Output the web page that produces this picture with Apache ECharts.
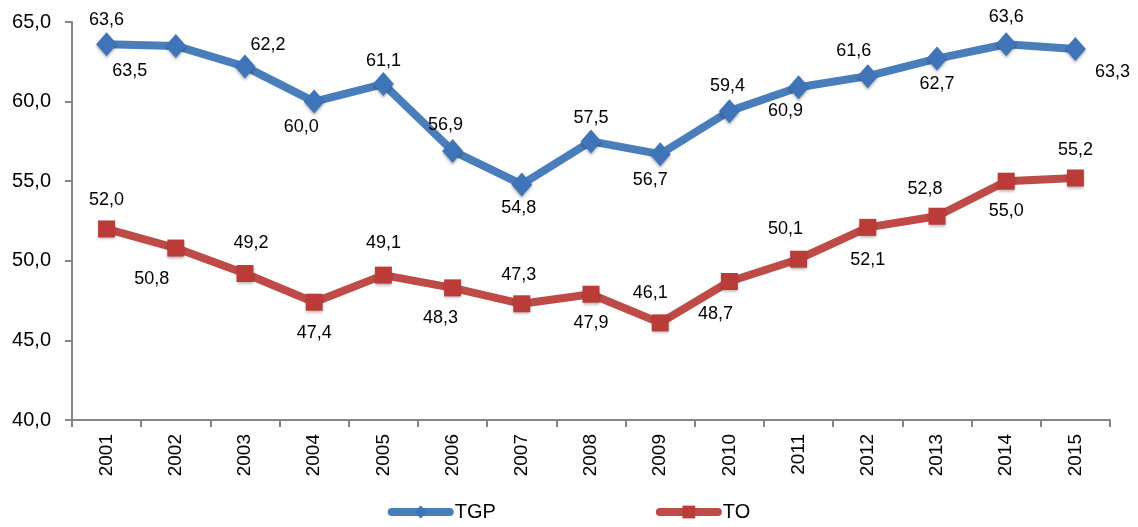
<!DOCTYPE html>
<html>
<head>
<meta charset="utf-8">
<script src="https://cdn.jsdelivr.net/npm/echarts@6/dist/echarts.min.js"></script>
<style>html,body{margin:0;padding:0;background:#fff}#c{width:1138px;height:527px}</style>
</head>
<body>
<div id="c"></div>
<script>
const years = ['2001','2002','2003','2004','2005','2006','2007','2008','2009','2010','2011','2012','2013','2014','2015'];
const tgp = [63.6, 63.5, 62.2, 60.0, 61.1, 56.9, 54.8, 57.5, 56.7, 59.4, 60.9, 61.6, 62.7, 63.6, 63.3];
const to  = [52.0, 50.8, 49.2, 47.4, 49.1, 48.3, 47.3, 47.9, 46.1, 48.7, 50.1, 52.1, 52.8, 55.0, 55.2];
const yTicks = {min: 40, max: 65, interval: 5};

// label offsets (style, pixels from point)
const tgpLabelOff = [[0,-24],[-46,25],[23,-22],[-13,25],[0,-23],[-7,-26],[-3,24],[0,-23],[-10,26],[-2,-25],[-13,24],[-14,-25],[0,25],[0,-27],[37,23]];
const toLabelOff  = [[0,-29],[-24,31],[6,-31],[0,31],[0,-32],[-12,30],[-3,-29],[0,29],[-10,-30],[-14,33],[-13,-30],[0,33],[-12,-27],[0,30],[0,-28]];

const FONT = 'Liberation Sans, Arial, sans-serif';
const fmt = v => v.toFixed(1).replace('.', ',');
const labelBase = {show: true, position: 'inside', color: '#000', fontFamily: FONT, fontSize: 18, formatter: p => fmt(p.value)};
function mkData(vals, offs) {
  return vals.map((v, i) => ({value: v, label: Object.assign({}, labelBase, {offset: offs[i]})}));
}

const chart = echarts.init(document.getElementById('c'), null, {renderer: 'canvas'});
chart.setOption({
  animation: false,
  backgroundColor: '#fff',
  grid: {left: 72, right: 28, top: 22, bottom: 107},
  legend: {
    bottom: 0, left: 'center', itemWidth: 58, itemHeight: 16, itemGap: 160,
    lineStyle: {width: 8, cap: 'round'},
    textStyle: {fontFamily: FONT, fontSize: 20, color: '#000'},
    data: ['TGP', 'TO']
  },
  xAxis: {
    type: 'category', data: years, boundaryGap: true,
    axisLine: {lineStyle: {color: '#868686', width: 2}},
    axisTick: {show: true, alignWithLabel: false, length: 7, lineStyle: {color: '#868686', width: 2}},
    axisLabel: {rotate: 90, margin: 14, color: '#000', fontSize: 19, fontFamily: FONT},
    splitLine: {show: false}
  },
  yAxis: {
    type: 'value', min: yTicks.min, max: yTicks.max, interval: yTicks.interval,
    axisLine: {show: true, lineStyle: {color: '#868686', width: 2}},
    axisTick: {show: true, length: 7, lineStyle: {color: '#868686', width: 2}},
    axisLabel: {margin: 21, color: '#000', fontSize: 20, fontFamily: FONT, formatter: v => fmt(v)},
    splitLine: {show: false}
  },
  series: [
    {
      name: 'TGP', type: 'line', data: mkData(tgp, tgpLabelOff),
      symbol: 'diamond', symbolSize: [21, 24],
      lineStyle: {color: '#4A7EBB', width: 8},
      itemStyle: {color: '#3F74B8', shadowColor: 'rgba(0,0,0,0.3)', shadowBlur: 3, shadowOffsetY: 2},
      z: 3
    },
    {
      name: 'TO', type: 'line', data: mkData(to, toLabelOff),
      symbol: 'rect', symbolSize: 17,
      lineStyle: {color: '#BE4B48', width: 8},
      itemStyle: {color: '#BA3B38', shadowColor: 'rgba(0,0,0,0.3)', shadowBlur: 3, shadowOffsetY: 2},
      z: 2
    }
  ]
});
</script>
</body>
</html>
